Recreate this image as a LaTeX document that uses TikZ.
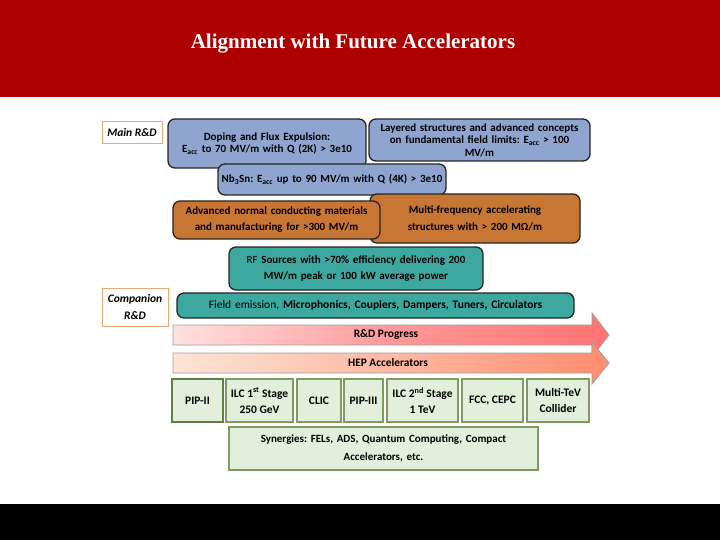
\documentclass[tikz,border=0pt]{standalone}
\usepackage{fontspec}
\setmainfont{Carlito}
\newfontfamily\titlefont{Liberation Serif}
\frenchspacing
\begin{document}
\begin{tikzpicture}[x=1pt,y=-1pt,
  rbox/.style={draw=black!85, line width=1.3pt, rounded corners=7pt, align=center,
    inner sep=1pt, font=\fontsize{11}{12.5}\selectfont\bfseries},
  bluebox/.style={rbox, fill=blueF},
  orangebox/.style={rbox, fill=orangeF},
  tealbox/.style={rbox, fill=tealF},
  lbl/.style={draw=labelB, line width=1pt, fill=white, align=center, inner sep=1pt,
    font=\fontsize{11.5}{17}\selectfont\bfseries\itshape},
  gbox/.style={draw=greenB, line width=1.3pt, fill=greenF, align=center, inner sep=1pt,
    minimum height=43pt, font=\fontsize{11.5}{16}\selectfont\bfseries},
  arrowshape/.style={draw=gray!75, line width=0.8pt},
  arrowtext/.style={font=\fontsize{11.4}{12}\selectfont\bfseries}
]
\definecolor{redband}{RGB}{174,0,0}
\definecolor{blueF}{RGB}{143,165,207}
\definecolor{orangeF}{RGB}{200,118,52}
\definecolor{tealF}{RGB}{60,168,160}
\definecolor{labelB}{RGB}{232,168,120}
\definecolor{greenF}{RGB}{226,239,218}
\definecolor{greenB}{RGB}{126,156,96}
\definecolor{greenD}{RGB}{96,128,64}
\useasboundingbox (0,0) rectangle (720,540);
\fill[white] (0,0) rectangle (720,540);
\fill[redband] (0,0) rectangle (720,97);
\fill[black] (0,504) rectangle (720,540);
\node[text=white, font=\titlefont\bfseries\fontsize{21}{24}\selectfont] (title) at (353,44) {Alignment with Future Accelerators};

% labels
\node[lbl, minimum width=60pt, minimum height=22pt] (mainrd) at (132,133) {Main R\&D};
\node[lbl, minimum width=66pt, minimum height=38pt] (comprd) at (135,307) {Companion\\R\&D};

% main R&D boxes
\node[bluebox, minimum width=198pt, minimum height=49pt, text width=192pt] (doping) at (267,143.5)
  {Doping and Flux Expulsion:\\E\textsubscript{acc} to 70 MV/m with Q (2K) > 3e10};
\node[bluebox, minimum width=221pt, minimum height=42pt, text width=215pt] (layered) at (479.5,140)
  {Layered structures and advanced concepts\\on fundamental field limits: E\textsubscript{acc} > 100\\MV/m};
\node[bluebox, minimum width=228pt, minimum height=31pt, text width=224pt] (nb3sn) at (332,179.5)
  {Nb\textsubscript{3}Sn: E\textsubscript{acc} up to 90 MV/m with Q (4K) > 3e10};
\node[orangebox, minimum width=210pt, minimum height=49pt, text width=204pt,
  font=\fontsize{11}{17}\selectfont\bfseries] (multifreq) at (475,218.5)
  {Multi-frequency accelerating\\structures with > 200 MΩ/m};
\node[orangebox, minimum width=207pt, minimum height=38pt, text width=203pt,
  font=\fontsize{11}{16}\selectfont\bfseries] (advanced) at (276.5,220)
  {Advanced normal conducting materials\\and manufacturing for >300 MV/m};
\node[tealbox, minimum width=254pt, minimum height=43pt, text width=248pt,
  font=\fontsize{11}{16}\selectfont\bfseries] (rf) at (356,268.5)
  {\mdseries RF \bfseries Sources with >70\% efficiency delivering 200\\MW/m peak or 100 kW average power};
\node[tealbox, minimum width=397pt, minimum height=25pt, text width=393pt,
  font=\fontsize{11.5}{13}\selectfont\bfseries] (field) at (375.5,305.5)
  {\mdseries Field emission, \bfseries Microphonics, Couplers, Dampers, Tuners, Circulators};

% arrows
\path[arrowshape, left color=red!12, right color=red!55!white, middle color=red!40!white]
  (173,325) -- (592,325) -- (592,313) -- (609,335) -- (592,357) -- (592,345) -- (173,345) -- cycle;
\node[arrowtext] (progress) at (386,335) {R\&D Progress};
\path[arrowshape, left color={rgb,255:red,252;green,228;blue,214}, right color={rgb,255:red,255;green,140;blue,110}]
  (173,353) -- (592,353) -- (592,342) -- (609,363) -- (592,384) -- (592,373) -- (173,373) -- cycle;
\node[arrowtext] (hep) at (388,363) {HEP Accelerators};

% bottom row
\node[gbox, draw=greenD, line width=2.2pt, minimum width=51pt] (pip2) at (197.5,400.5) {PIP-II};
\node[gbox, minimum width=67pt] (ilc1) at (259.5,400.5) {ILC 1\textsuperscript{st} Stage\\250 GeV};
\node[gbox, minimum width=44pt] (clic) at (319,400.5) {CLIC};
\node[gbox, minimum width=39pt] (pip3) at (363.5,400.5) {PIP-III};
\node[gbox, minimum width=71pt] (ilc2) at (422.5,400.5) {ILC 2\textsuperscript{nd} Stage\\1 TeV};
\node[gbox, minimum width=61pt] (fcc) at (492.5,400.5) {FCC, CEPC};
\node[gbox, minimum width=62pt] (multitev) at (558,400.5) {Multi-TeV\\Collider};
\node[gbox, minimum width=309pt, minimum height=43pt, text width=303pt,
  font=\fontsize{11}{18}\selectfont\bfseries] (syn) at (383.5,448.5)
  {Synergies: FELs, ADS, Quantum Computing, Compact\\Accelerators, etc.};
\end{tikzpicture}
\end{document}
